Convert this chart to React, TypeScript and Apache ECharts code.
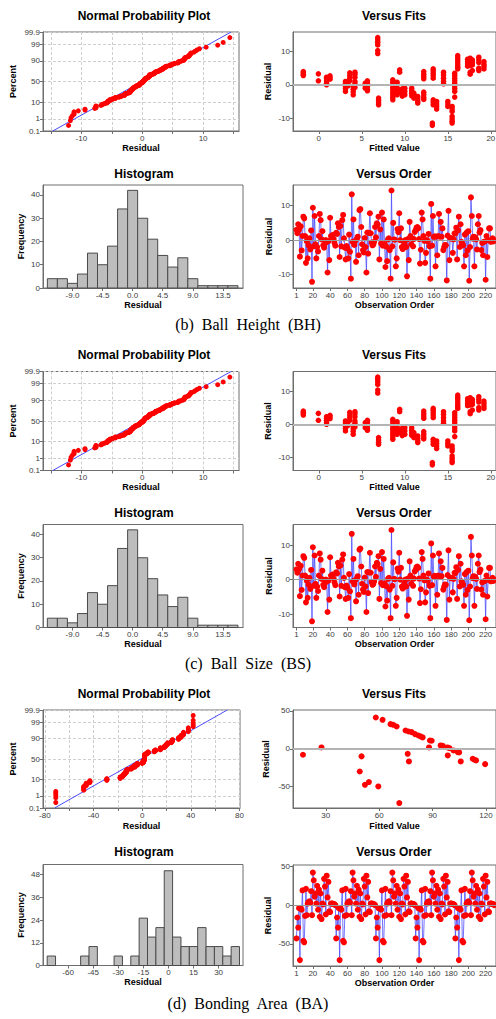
import React, { useEffect, useRef } from "react";
import * as echarts from "echarts";

// ---------------- DATA ----------------
// Residuals in observation order, Ball Height (panel b). Panel (c) Ball Size shows identical plots.
const residBH: number[] = [
  3.0, 2.0, 4.6, 3.0, -4.8, 4.0, -3.0, 1.2, 6.8, 6.3,
  1.2, -6.6, -0.3, -5.3, -1.5, 0.5, -2.7, 2.8, -12.1, 9.4,
  -1.8, 7.0, -1.2, -5.3, -2.0, -3.3, 1.2, 7.6, 5.8, 0.2,
  2.6, -1.5, -2.2, -1.0, 0.0, -0.5, -9.4, -0.3, -5.8, 6.5,
  1.2, 0.8, 1.5, 0.3, -0.8, -1.6, 2.1, 1.8, 4.9, 3.8,
  -4.9, 4.1, -1.8, 5.8, 7.3, 0.5, -2.2, -5.6, -1.7, -2.4,
  -5.3, 1.6, -3.4, -11.2, 13.3, -0.5, 6.0, -1.4, -0.2, -6.3,
  0.4, 1.0, -4.4, 8.7, 9.0, 3.8, -1.2, -2.9, -3.6, 0.6,
  -2.0, -9.4, 2.2, -3.9, 2.1, 7.8, 2.0, -0.7, -1.5, -1.3,
  -0.5, 3.8, 0.8, 4.9, 4.5, 6.8, -5.6, 3.1, -1.0, 8.0,
  -1.6, 6.0, -1.1, -7.8, -1.9, -6.1, 0.2, 0.5, -2.9, -11.2,
  14.4, -1.8, 5.0, 0.2, 0.1, -7.6, -5.3, 3.2, 2.3, 7.8,
  0.0, 3.4, -2.0, -2.6, -2.2, -1.0, 0.0, -2.0, -10.5, 0.3,
  -5.8, 5.3, 1.2, -1.2, 0.4, -1.8, 0.3, 2.4, 2.9, 3.6,
  3.8, 3.4, 0.3, -6.8, -2.8, 8.0, 6.0, 1.2, -0.2, -6.6,
  -3.7, 0.0, -0.4, 1.8, -1.8, -11.2, 10.5, -1.6, 7.0, 0.9,
  1.1, -7.6, 1.0, -4.4, 1.2, 7.6, 1.0, 5.3, 1.0, 3.4,
  -2.9, -2.0, -1.4, -1.5, -11.7, 1.3, 8.5, -5.8, 0.6, 0.4,
  0.5, -3.7, 0.2, 2.0, 1.9, 3.6, -5.6, 2.8, 6.8, -2.0,
  4.6, -0.5, -1.0, -1.5, -7.6, 1.6, -4.4, 2.2, -3.0, 2.6,
  -11.8, -2.0, 12.4, 7.0, 0.4, 1.0, -7.6, 0.8, 0.2, -2.7,
  4.6, 7.0, 2.2, 2.9, -2.9, -0.8, -4.4, -0.5, -0.4, -11.5,
  1.2, -4.9, 0.0, 3.4, 3.4, -0.5, -0.3, 0.5, -0.4, 0.0,
];
const residBS: number[] = residBH;

// [fitted value, residual] for Ball Height / Ball Size
const fitsBH: number[][] = [
  [-1.8, 2.8], [-1.8, 3.2], [-1.8, 3.6], [-1.8, 4.0],
  [-0.05, 3.3], [-0.05, 1.2],
  [0.9, 2.3], [0.9, 1.8], [0.9, 1.2], [0.9, 0.5], [0.9, 0.0],
  [1.3, 2.7], [1.3, 2.2], [1.3, 1.7],
  [3.1, 1.0], [3.1, 0.4], [3.1, -0.5], [3.1, -1.2], [3.1, -2.0],
  [3.4, 0.8], [3.4, -0.3],
  [3.6, 3.6], [3.6, 2.8], [3.6, 2.0], [3.6, 1.2],
  [4.0, -0.5], [4.0, -1.3], [4.0, -2.1], [4.0, -3.0],
  [4.2, 3.8], [4.2, 3.2], [4.2, 2.3], [4.2, 1.0], [4.2, 0.3], [4.2, -0.8],
  [5.4, 0.5], [5.4, -0.3], [5.4, -1.0],
  [5.65, 1.2], [5.65, 0.5], [5.65, -0.5], [5.65, -1.3], [5.65, -1.8],
  [6.85, 14.2], [6.85, 13.5], [6.85, 12.8], [6.85, 12.0], [6.85, 10.3], [6.85, 9.4],
  [6.95, -4.0], [6.95, -4.7], [6.95, -5.4], [6.95, -6.0],
  [8.6, 1.5], [8.6, 0.8], [8.6, 0], [8.6, -0.8], [8.6, -1.5], [8.6, -2.3], [8.6, -3.0], [8.6, -3.8], [8.6, -4.5],
  [8.85, 0.5], [8.85, -0.5], [8.85, -1.3], [8.85, -2.0],
  [9.1, 0.8], [9.1, 0], [9.1, -1.0], [9.1, -2.2], [9.1, -3.0],
  [9.4, 4.5], [9.4, 3.8], [9.4, -1.5], [9.4, -2.3],
  [9.7, -1.2], [9.7, -2.0], [9.7, -2.7], [9.7, -3.4],
  [10.0, -1.0], [10.0, -2.0], [10.0, -3.0],
  [10.8, -1.0], [10.8, -1.8], [10.8, -2.5], [10.8, -3.3],
  [11.05, -2.5], [11.05, -3.2], [11.05, -4.0],
  [11.5, -3.5], [11.5, -4.2], [11.5, -5.0], [11.5, -5.5],
  [12.2, 4.0], [12.2, 3.2], [12.2, 2.5], [12.2, 1.8], [12.2, -2.2], [12.2, -3.0], [12.2, -3.8], [12.2, -4.4],
  [13.3, 4.8], [13.3, 4.2], [13.3, 3.5], [13.3, 2.8], [13.3, 2.0], [13.3, -4.5], [13.3, -5.2], [13.3, -6.0],
  [13.2, -11.5], [13.2, -12.2],
  [13.7, -5.0], [13.7, -5.8], [13.7, -6.5], [13.7, -7.3],
  [14.5, 3.8], [14.5, 3.0], [14.5, 2.0], [14.5, 1.0], [14.5, 0.3],
  [15.0, -5.0], [15.0, -5.8], [15.0, -6.5],
  [15.5, -6.5], [15.5, -7.3], [15.5, -8.0], [15.5, -9.5], [15.5, -10.3], [15.5, -11.0], [15.5, -11.5],
  [15.8, 3.5], [15.8, 2.8], [15.8, 2.0], [15.8, 1.2], [15.8, 0.5], [15.8, -0.3], [15.8, -1.1], [15.8, -2.0], [15.8, -3.7],
  [16.15, 8.8], [16.15, 8.1], [16.15, 7.4], [16.15, 6.7], [16.15, 6.0], [16.15, 5.3], [16.15, 4.8],
  [17.3, 7.7], [17.3, 7.0], [17.3, 6.3], [17.3, 5.6],
  [17.6, 8.0], [17.6, 7.2], [17.6, 6.5], [17.6, 5.8], [17.6, 3.8], [17.6, 3.2],
  [17.85, 7.5], [17.85, 6.8], [17.85, 6.0], [17.85, 4.3],
  [18.6, 8.3], [18.6, 7.5], [18.6, 6.7], [18.6, 5.0], [18.6, 4.3],
  [19.2, 7.0], [19.2, 6.2], [19.2, 5.5], [19.2, 4.8],
];
const fitsBS: number[][] = fitsBH;

// Histogram bins (centres) and frequencies, BH / BS
const histBinsBH: number[] = [-12, -10.5, -9, -7.5, -6, -4.5, -3, -1.5, 0, 1.5, 3, 4.5, 6, 7.5, 9, 10.5, 12, 13.5, 15];
const histCountsBH: number[] = [4, 4, 2, 6, 15, 10, 18, 34, 42, 30, 21, 14, 9, 13, 4, 1, 1, 1, 1];
const histBinsBS = histBinsBH;
const histCountsBS = histCountsBH;

// Bonding Area: one run cycle of 46 residuals, repeated in each of the 5 replicates
const cycleBA: number[] = [
  -43, -16, -29, -4, -71, -4, -6, 19, -46, -48,
  -14, 21, -13, 2, 4, 5, 3, 18, -13, 42,
  32, 11, 15, 2, 25, -6, 20, -15, 15, -18,
  2, 1, 34, 24, -12, 38, 10, 30, -8, -9,
  2, 2, 2, 1.5, 1, 0,
];
const residBA: number[] = [...cycleBA, ...cycleBA, ...cycleBA, ...cycleBA, ...cycleBA];

const fitsBA: number[][] = [
  [17.2, -7.9], [27.6, 1.8], [49.1, -30], [50.1, -10], [52, -47.6], [54.2, -44], [58.1, 41.4],
  [59.5, -49.8], [61.9, 38.3], [66.4, 32.6], [67.9, 31.7], [69.8, 29.5], [71.3, -71.8], [74.8, 24.2],
  [76, -6.6], [76.7, -16.7], [76.5, 22.9], [78.2, 22], [80.1, 19.4], [82, 17.6], [83.3, 16.3],
  [84.4, 15], [88, 1.8], [88.5, 11], [89.5, 10.6], [94.5, 4.4], [95.7, 4], [98.3, 1.8], [98.5, -8.8],
  [99.4, 0.9], [101.7, -2.2], [104.1, -4.4], [104.9, -4.8], [105.8, -16.7], [112.5, -13.2],
  [113.5, -14.5], [114.4, -15.4], [119.5, -20.3],
];

const histBinsBA: number[] = [-70, -65, -60, -55, -50, -45, -40, -35, -30, -25, -20, -15, -10, -5, 0, 5, 10, 15, 20, 25, 30, 35, 40];
const histCountsBA: number[] = [5, 0, 0, 0, 5, 10, 0, 0, 5, 0, 5, 25, 15, 20, 50, 15, 10, 10, 20, 10, 10, 5, 10];

// Fitted normal lines (residual at 0.1 % and 99.9 %)
const nppLineBH: number[] = [-14.7, 14.6];
const nppLineBA: number[] = [-72, 70];

// Tick labels
const pctLabels: number[] = [0.1, 1, 10, 50, 90, 99, 99.9];
const orderLabels: number[] = [1, 20, 40, 60, 80, 100, 120, 140, 160, 180, 200, 220];

// ---------------- HELPERS ----------------
function invNorm(p: number): number {
  const a = [-3.969683028665376e1, 2.209460984245205e2, -2.759285104469687e2, 1.38357751867269e2, -3.066479806614716e1, 2.506628277459239];
  const b = [-5.447609879822406e1, 1.615858368580409e2, -1.556989798598866e2, 6.680131188771972e1, -1.328068155288572e1];
  const c = [-7.784894002430293e-3, -3.223964580411365e-1, -2.400758277161838, -2.549732539343734, 4.374664141464968, 2.938163982698783];
  const d = [7.784695709041462e-3, 3.224671290700398e-1, 2.445134137142996, 3.754408661907416];
  const pl = 0.02425;
  if (p < pl) {
    const q = Math.sqrt(-2 * Math.log(p));
    return (((((c[0] * q + c[1]) * q + c[2]) * q + c[3]) * q + c[4]) * q + c[5]) / ((((d[0] * q + d[1]) * q + d[2]) * q + d[3]) * q + 1);
  }
  if (p > 1 - pl) {
    const q = Math.sqrt(-2 * Math.log(1 - p));
    return -(((((c[0] * q + c[1]) * q + c[2]) * q + c[3]) * q + c[4]) * q + c[5]) / ((((d[0] * q + d[1]) * q + d[2]) * q + d[3]) * q + 1);
  }
  const q = p - 0.5;
  const r = q * q;
  return ((((((a[0] * r + a[1]) * r + a[2]) * r + a[3]) * r + a[4]) * r + a[5]) * q) / (((((b[0] * r + b[1]) * r + b[2]) * r + b[3]) * r + b[4]) * r + 1);
}

const zOf = (pct: number) => invNorm(pct / 100);
const Z_MIN = zOf(0.1);
const Z_MAX = zOf(99.9);

function nppPoints(res: number[]): number[][] {
  const s = [...res].sort((x, y) => x - y);
  const n = s.length;
  return s.map((v, i) => [v, invNorm((i + 1 - 0.3) / (n + 0.4))]);
}

const FONT = '"Liberation Sans", Arial, Helvetica, sans-serif';
const FRAME = "#6e6e6e";

function axis(gi: number, min: number, max: number, labels: number[], o: any = {}) {
  return {
    type: "value",
    gridIndex: gi,
    min,
    max,
    name: o.name,
    nameLocation: "middle",
    nameGap: o.gap,
    nameTextStyle: { fontFamily: FONT, fontSize: 9, fontWeight: "bold", color: "#000" },
    axisLine: { show: true, onZero: false, lineStyle: { color: FRAME, width: 1 } },
    axisTick: { show: true, inside: false, length: 3, customValues: o.ticks || labels, lineStyle: { color: FRAME, width: 1 } },
    axisLabel: {
      customValues: labels,
      fontFamily: FONT,
      fontSize: 8,
      color: "#3c3c3c",
      margin: 3,
      hideOverlap: false,
      formatter: o.fmt || ((v: number) => String(v)),
    },
    splitLine: { show: !!o.split, lineStyle: { color: "#cfcfcf", type: [3, 2], width: 1 } },
  };
}

const pctFmt = (v: number) => {
  for (const p of pctLabels) if (Math.abs(zOf(p) - v) < 1e-6) return String(p);
  return "";
};

function histSeries(xi: number, bins: number[], counts: number[], w: number) {
  return {
    type: "custom",
    xAxisIndex: xi,
    yAxisIndex: xi,
    data: bins.map((b, i) => [b, counts[i]]),
    encode: { x: 0, y: 1 },
    renderItem: (params: any, api: any) => {
      const c = api.value(0);
      const n = api.value(1);
      if (!n) return null;
      const p0 = api.coord([c - w / 2, n]);
      const p1 = api.coord([c + w / 2, 0]);
      return {
        type: "rect",
        shape: { x: p0[0], y: p0[1], width: p1[0] - p0[0], height: p1[1] - p0[1] },
        style: { fill: "#bdbdbd", stroke: "#4a4a4a", lineWidth: 1 },
      };
    },
  };
}

function titleText(text: string, x: number, y: number, size = 12) {
  return {
    type: "text",
    x,
    y,
    silent: true,
    style: {
      text,
      fontFamily: FONT,
      fontSize: size,
      fontWeight: "bold",
      fill: "#000",
      align: "center",
      verticalAlign: "middle",
      textAlign: "center",
      textVerticalAlign: "middle",
    },
  };
}

function buildOption() {
  const grids: any[] = [];
  const xAxes: any[] = [];
  const yAxes: any[] = [];
  const series: any[] = [];
  const graphics: any[] = [];

  const groups = [
    {
      dy: 0, cap: "(b)  Ball  Height  (BH)", capY: 324,
      resid: residBH, fits: fitsBH, bins: histBinsBH, counts: histCountsBH, line: nppLineBH,
    },
    {
      dy: 339.5, cap: "(c)  Ball  Size  (BS)", capY: 663.5,
      resid: residBS, fits: fitsBS, bins: histBinsBS, counts: histCountsBS, line: nppLineBH,
    },
  ];

  const addGrid = (g: any) => {
    grids.push({ ...g, show: true, borderColor: FRAME, borderWidth: 1, backgroundColor: "#fff", containLabel: false, outerBoundsMode: "none" });
    return grids.length - 1;
  };

  const orderSeries = (gi: number, resid: number[], size: number) => ({
    type: "line",
    xAxisIndex: gi,
    yAxisIndex: gi,
    data: resid.map((v, i) => [i + 1, v]),
    symbol: "circle",
    symbolSize: size,
    showSymbol: true,
    itemStyle: { color: "#ff0000" },
    lineStyle: { color: "#4646ff", width: 1, opacity: 0.75 },
    markLine: {
      silent: true, symbol: "none", label: { show: false },
      lineStyle: { color: "#9a9a9a", width: 1, type: "solid" },
      data: [{ yAxis: 0 }],
    },
    z: 3,
  });

  const fitsSeries = (gi: number, pts: number[][], size: number) => ({
    type: "scatter",
    xAxisIndex: gi,
    yAxisIndex: gi,
    data: pts,
    symbolSize: size,
    itemStyle: { color: "#ff0000", opacity: 1 },
    markLine: {
      silent: true, symbol: "none", label: { show: false },
      lineStyle: { color: "#b4b4b4", width: 2, type: "solid" },
      data: [{ yAxis: 0 }],
    },
  });

  const nppSeries = (gi: number, resid: number[], line: number[], size: number) => [
    {
      type: "line",
      xAxisIndex: gi,
      yAxisIndex: gi,
      data: [[line[0], Z_MIN], [line[1], Z_MAX]],
      symbol: "none",
      lineStyle: { color: "#4b4bff", width: 1 },
      z: 2,
    },
    {
      type: "scatter",
      xAxisIndex: gi,
      yAxisIndex: gi,
      data: nppPoints(resid),
      symbolSize: size,
      itemStyle: { color: "#ff0000", opacity: 1 },
      z: 3,
    },
  ];

  for (const G of groups) {
    const dy = G.dy;
    // NPP
    let gi = addGrid({ left: 43, top: 32 + dy, width: 196, height: 99 });
    xAxes.push(axis(gi, -16.3, 15.9, [-10, 0, 10], { name: "Residual", gap: 12, split: true, ticks: [-15, -10, -5, 0, 5, 10, 15] }));
    yAxes.push(axis(gi, Z_MIN, Z_MAX, pctLabels.map(zOf), { name: "Percent", gap: 26, split: true, fmt: pctFmt }));
    series.push(...nppSeries(gi, G.resid, G.line, 5));
    graphics.push(titleText("Normal Probability Plot", 144, 15.7 + dy));
    // Fits
    gi = addGrid({ left: 293, top: 32 + dy, width: 203, height: 99 });
    xAxes.push(axis(gi, -3, 20.6, [0, 5, 10, 15, 20], { name: "Fitted Value", gap: 12 }));
    yAxes.push(axis(gi, -13.9, 15.9, [-10, 0, 10], { name: "Residual", gap: 21 }));
    series.push(fitsSeries(gi, G.fits, 5.5));
    graphics.push(titleText("Versus Fits", 394, 15.7 + dy));
    // Histogram
    gi = addGrid({ left: 43, top: 185 + dy, width: 200, height: 103 });
    xAxes.push(axis(gi, -13.4, 16.5, [-9, -4.5, 0, 4.5, 9, 13.5], { name: "Residual", gap: 12, fmt: (v: number) => v.toFixed(1) }));
    yAxes.push(axis(gi, 0, 44.3, [0, 10, 20, 30, 40], { name: "Frequency", gap: 18 }));
    series.push(histSeries(gi, G.bins, G.counts, 1.5));
    graphics.push(titleText("Histogram", 144, 173.7 + dy));
    // Order
    gi = addGrid({ left: 293, top: 185 + dy, width: 203, height: 103 });
    xAxes.push(axis(gi, -3, 232, orderLabels, { name: "Observation Order", gap: 12 }));
    yAxes.push(axis(gi, -13.9, 16, [-10, 0, 10], { name: "Residual", gap: 20 }));
    series.push(orderSeries(gi, G.resid, 6));
    graphics.push(titleText("Versus Order", 394, 173.7 + dy));
    // caption
    graphics.push({
      type: "text", x: 248, y: G.capY, silent: true,
      style: { text: G.cap, fontFamily: '"Liberation Serif", "Times New Roman", serif', fontSize: 16, fill: "#000", align: "center", verticalAlign: "middle", textAlign: "center", textVerticalAlign: "middle" },
    });
  }

  // Bonding Area group
  {
    let gi = addGrid({ left: 43, top: 710, width: 197, height: 98 });
    xAxes.push(axis(gi, -81.5, 80.5, [-80, -40, 0, 40, 80], { name: "Residual", gap: 13, split: true, ticks: [-80, -60, -40, -20, 0, 20, 40, 60, 80] }));
    yAxes.push(axis(gi, Z_MIN, Z_MAX, pctLabels.map(zOf), { name: "Percent", gap: 26, split: true, fmt: pctFmt }));
    series.push(...nppSeries(gi, residBA, nppLineBA, 5));
    graphics.push(titleText("Normal Probability Plot", 144, 694));

    gi = addGrid({ left: 293, top: 710, width: 203, height: 98 });
    xAxes.push(axis(gi, 11.6, 125.6, [30, 60, 90, 120], { name: "Fitted Value", gap: 13 }));
    yAxes.push(axis(gi, -78.3, 51.3, [-50, 0, 50], { name: "Residual", gap: 23 }));
    series.push(fitsSeries(gi, fitsBA, 6));
    graphics.push(titleText("Versus Fits", 394, 694));

    gi = addGrid({ left: 43, top: 864.5, width: 200, height: 101 });
    xAxes.push(axis(gi, -75, 44.6, [-60, -45, -30, -15, 0, 15, 30], { name: "Residual", gap: 12 }));
    yAxes.push(axis(gi, 0, 53.3, [0, 12, 24, 36, 48], { name: "Frequency", gap: 18 }));
    series.push(histSeries(gi, histBinsBA, histCountsBA, 5));
    graphics.push(titleText("Histogram", 144, 851.7));

    gi = addGrid({ left: 293, top: 865, width: 203, height: 101 });
    xAxes.push(axis(gi, -3, 232, orderLabels, { name: "Observation Order", gap: 12 }));
    yAxes.push(axis(gi, -78.6, 51.8, [-50, 0, 50], { name: "Residual", gap: 21 }));
    series.push(orderSeries(gi, residBA, 6));
    graphics.push(titleText("Versus Order", 394, 851.7));

    graphics.push({
      type: "text", x: 248, y: 1003, silent: true,
      style: { text: "(d)  Bonding  Area  (BA)", fontFamily: '"Liberation Serif", "Times New Roman", serif', fontSize: 16, fill: "#000", align: "center", verticalAlign: "middle", textAlign: "center", textVerticalAlign: "middle" },
    });
  }

  return {
    animation: false,
    backgroundColor: "#ffffff",
    grid: grids,
    xAxis: xAxes,
    yAxis: yAxes,
    series,
    graphic: { elements: graphics },
  };
}

export default function App() {
  const ref = useRef<HTMLDivElement>(null);
  useEffect(() => {
    document.body.style.margin = "0";
    if (!ref.current) return;
    const chart = echarts.init(ref.current, null, { renderer: "svg", width: 496, height: 1019 });
    chart.setOption(buildOption() as any);
    return () => chart.dispose();
  }, []);
  return <div ref={ref} style={{ width: 496, height: 1019, background: "#fff" }} />;
}
